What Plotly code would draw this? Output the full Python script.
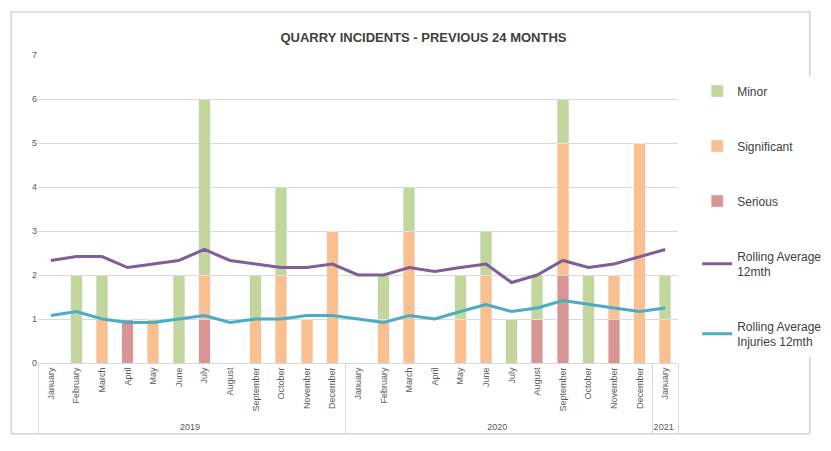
import plotly.graph_objects as go

months = ["January", "February", "March", "April", "May", "June", "July", "August",
          "September", "October", "November", "December"]
years = ["2019"] * 12 + ["2020"] * 12 + ["2021"]
month_labels = months + months + ["January"]

serious = [0, 0, 0, 1, 0, 0, 1, 0, 0, 0, 0, 0, 0, 0, 0, 0, 0, 0, 0, 1, 2, 0, 1, 0, 0]
significant = [0, 0, 1, 0, 1, 0, 1, 0, 1, 2, 1, 3, 0, 1, 3, 0, 1, 2, 0, 0, 3, 0, 1, 5, 1]
minor = [0, 2, 1, 0, 0, 2, 4, 0, 1, 2, 0, 0, 0, 1, 1, 0, 1, 1, 1, 1, 1, 2, 0, 0, 1]
rolling_avg = [2.33, 2.42, 2.42, 2.17, 2.25, 2.33, 2.58, 2.33, 2.25, 2.17, 2.17, 2.25,
               2.0, 2.0, 2.17, 2.08, 2.17, 2.25, 1.83, 2.0, 2.33, 2.17, 2.25, 2.42, 2.58]
rolling_inj = [1.08, 1.17, 1.0, 0.92, 0.92, 1.0, 1.08, 0.92, 1.0, 1.0, 1.08, 1.08,
               1.0, 0.92, 1.08, 1.0, 1.17, 1.33, 1.17, 1.25, 1.42, 1.33, 1.25, 1.17, 1.25]

x = [years, month_labels]

fig = go.Figure()
# legend order: Minor, Significant, Serious, Rolling avg, Rolling injuries
fig.add_trace(go.Bar(x=x, y=serious, name="Serious", legendrank=3,
                     marker=dict(color="#d99594")))
fig.add_trace(go.Bar(x=x, y=significant, name="Significant", legendrank=2,
                     marker=dict(color="#fac090")))
fig.add_trace(go.Bar(x=x, y=minor, name="Minor", legendrank=1,
                     marker=dict(color="#c3d69b")))
fig.add_trace(go.Scatter(x=x, y=rolling_avg, name="Rolling Average<br>12mth", mode="lines",
                         legendrank=4, line=dict(color="#7f5f9a", width=3)))
fig.add_trace(go.Scatter(x=x, y=rolling_inj, name="Rolling Average<br>Injuries 12mth",
                         mode="lines", legendrank=5, line=dict(color="#4bacc6", width=3)))
for t in fig.data:
    t.legendgroup = t.name

fig.update_layout(
    width=831, height=451,
    barmode="stack",
    bargap=0.55,
    title=dict(text="<b>QUARRY INCIDENTS - PREVIOUS 24 MONTHS</b>", x=0.5, y=0.945,
               font=dict(size=13, color="#404040")),
    font=dict(family="Liberation Sans, Arial", color="#595959", size=10),
    plot_bgcolor="white", paper_bgcolor="white",
    margin=dict(l=30, r=141, t=47, b=96),
    legend=dict(x=1.03, y=0.93, yanchor="top", traceorder="grouped",
                tracegroupgap=36, font=dict(size=12, color="#404040"),
                valign="middle"),
    xaxis=dict(tickangle=-90, tickfont=dict(size=9), showline=True, linecolor="#d9d9d9",
               showdividers=True, dividercolor="#d9d9d9"),
    yaxis=dict(range=[0, 7], dtick=1, gridcolor="#d9d9d9", tickfont=dict(size=9),
               zeroline=False),
    shapes=[dict(type="rect", xref="paper", yref="paper", x0=-0.042, x1=1.206,
                 y0=-0.23, y1=1.14, line=dict(color="#bfbfbf", width=1))],
)

fig.write_html("out.html")
